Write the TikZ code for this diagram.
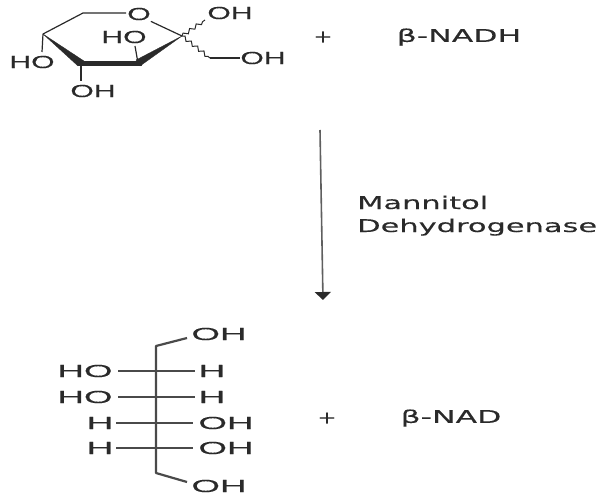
\documentclass[tikz,border=0pt]{standalone}
\usepackage{fontspec}
\usetikzlibrary{decorations.pathmorphing,arrows.meta}
\newfontfamily\chemf[FakeStretch=1.72,FakeBold=0.5]{Liberation Sans}
\newfontfamily\chemg[FakeStretch=2.1,FakeBold=0.5]{Liberation Sans}
\newfontfamily\verdf[FakeStretch=1.8,FakeBold=0.2]{DejaVu Sans}
\newfontfamily\verdg[FakeStretch=1.74,FakeBold=0.2]{DejaVu Sans}
\newfontfamily\verdp[FakeStretch=1.3,FakeBold=0.2]{DejaVu Sans}
\definecolor{ink}{HTML}{2A2A2A}
\tikzset{
 chem/.style={font=\chemf\fontsize{17.5}{20}\selectfont,text=ink,inner sep=0pt},
 chemb/.style={font=\chemg\fontsize{17.5}{20}\selectfont,text=ink,inner sep=0pt},
 label/.style={font=\verdf\fontsize{17.5}{20}\selectfont,text=ink,inner sep=0pt},
 enzlabel/.style={font=\verdg\fontsize{17.5}{20}\selectfont,text=ink,inner sep=0pt},
 pluslabel/.style={font=\verdp\fontsize{17.5}{20}\selectfont,text=ink,inner sep=0pt},
 bond/.style={draw=ink,line width=1.2pt},
 fisch/.style={draw=ink!85,line width=1.3pt},
 spine/.style={draw=ink!85,line width=2.2pt,line join=round},
 wavy/.style={draw=ink,line width=1pt,decorate,decoration={snake,amplitude=1.8pt,segment length=8pt}},
 wedge/.style={fill=ink,draw=ink,line width=.3pt,line join=round}
}
\begin{document}
\begin{tikzpicture}[x=1pt,y=-1pt]
\useasboundingbox (0,0) rectangle (600,500);
% sugar ring
\coordinate (c1) at (83,13);
\coordinate (c2) at (43,34);
\coordinate (c3) at (81,63);
\coordinate (c4) at (138,63);
\coordinate (c5) at (182,36);
\coordinate (c6) at (210,58);
\coordinate (w1) at (205,20);
\coordinate (b3) at (135,46);
\coordinate (b2) at (42,52);
\coordinate (b4) at (81,81);
\node[chem] (ringO) at (139,14) {O};
\node[chem] (oh1) at (230,13) {OH};
\node[chem] (oh2) at (263,58) {OH};
\node[chem] (ho3) at (124,37) {HO};
\node[chem] (ho2) at (32,62) {HO};
\node[chem] (oh4) at (93,91) {OH};
\draw[bond] (ringO.west) ++(-1,-1) -- (c1) -- (c2);
\draw[bond] (ringO.south east) ++(0,1) -- (c5);
\draw[bond] (c2) -- (b2);
\draw[bond] (c3) -- (b4);
\draw[bond] (c4) -- (b3);
\draw[bond] (c6) -- (oh2.west);
\fill[wedge] (c2) -- (78,66) -- (84,61) -- cycle;
\fill[wedge] (78,61) rectangle (141,65.5);
\fill[wedge] (c5) -- (136,60) -- (140,66) -- cycle;
\draw[wavy] (c5) -- (w1);
\draw[wavy] (c5) -- (c6);
% reaction text
\node[pluslabel] (plus1) at (323,37) {+};
\node[label] (nadh) at (459,37) {β-NADH};
\node[pluslabel] (plus2) at (327,418) {+};
\node[label] (nad) at (451,418) {β-NAD};
\node[enzlabel,anchor=base west] (enz1) at (357,209) {Mannitol};
\node[enzlabel,anchor=base west] (enz2) at (357,232) {Dehydrogenase};
% arrow
\coordinate (as) at (320,130);
\coordinate (ae) at (323,300);
\draw[draw=ink!75,line width=1.6pt,-{Triangle[length=8pt,width=16pt,color=ink]}] (as) -- (ae);
% Fischer projection
\coordinate (s0) at (187,338);
\coordinate (s1) at (156,346);
\coordinate (s2) at (156,473);
\coordinate (s3) at (187,482);
\node[chemb] (top) at (219,334) {OH};
\node[chemb] (bot) at (219,486) {OH};
\draw[spine] (s0) -- (s1) -- (s2) -- (s3);
\foreach \n/\y/\l/\r/\lx/\rx/\la/\ra in {a/371/HO/H/85/212/118/195,b/397/HO/H/85/212/118/195,c/423/H/OH/100/226/116/193,d/448/H/OH/100/226/116/193}{
  \node[chemb] (l\n) at (\lx,\y) {\l};
  \node[chemb] (r\n) at (\rx,\y) {\r};
  \coordinate (la\n) at (\la,\y);
  \coordinate (ra\n) at (\ra,\y);
  \draw[fisch] (la\n) -- (ra\n);
}
\end{tikzpicture}
\end{document}
